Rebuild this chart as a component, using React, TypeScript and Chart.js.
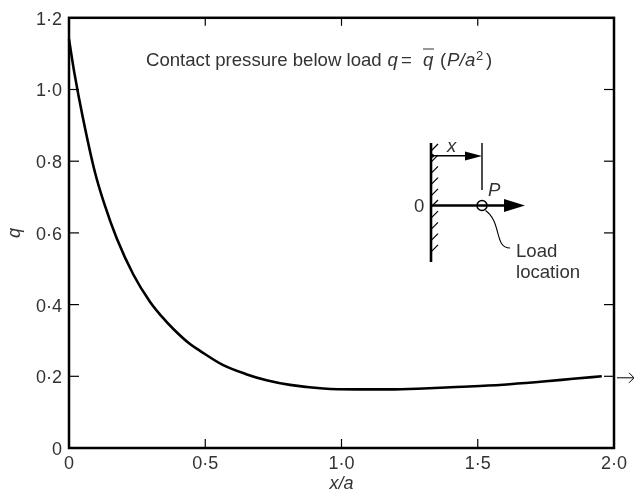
import React, { useEffect, useRef } from "react";
import { Chart, registerables } from "chart.js";

Chart.register(...registerables);

const xValues = [0, 0.02, 0.05, 0.095, 0.13, 0.175, 0.236, 0.297, 0.34, 0.383, 0.444, 0.481, 0.566, 0.65, 0.725, 0.811, 0.933, 1.056, 1.178, 1.3, 1.42, 1.508, 1.618, 1.75, 1.85, 1.955];
const qValues = [1.14, 1.045, 0.925, 0.77, 0.68, 0.585, 0.484, 0.408, 0.367, 0.332, 0.29, 0.271, 0.231, 0.206, 0.189, 0.176, 0.166, 0.1635, 0.1635, 0.166, 0.17, 0.173, 0.178, 0.186, 0.193, 0.2];
const xTicks = [0, 0.5, 1, 1.5, 2];
const yTicks = [0, 0.2, 0.4, 0.6, 0.8, 1, 1.2];

const INK = "#333333";
const FONT = '"Liberation Sans", Arial, sans-serif';
const SIZE = 18;
const NOTE = 18.6;

function fmt(v: number): string {
  if (v === 0) return "0";
  return v.toFixed(1).replace(".", "·");
}

const overlay = {
  id: "overlay",
  afterDatasetsDraw(chart: any) {
    const { ctx, chartArea: a, scales } = chart;
    const { left: L, right: R, top: T, bottom: B } = a;
    const line = (pts: number[][], w: number, col = "#000") => {
      ctx.beginPath();
      ctx.strokeStyle = col;
      ctx.lineWidth = w;
      pts.forEach((p, i) => (i ? ctx.lineTo(p[0], p[1]) : ctx.moveTo(p[0], p[1])));
      ctx.stroke();
    };
    const tri = (pts: number[][]) => {
      ctx.beginPath();
      ctx.fillStyle = "#000";
      pts.forEach((p, i) => (i ? ctx.lineTo(p[0], p[1]) : ctx.moveTo(p[0], p[1])));
      ctx.closePath();
      ctx.fill();
    };
    const text = (s: string, x: number, y: number, size = NOTE, italic = false, align = "left") => {
      ctx.font = `${italic ? "italic " : ""}${size}px ${FONT}`;
      ctx.fillStyle = INK;
      ctx.textAlign = align;
      ctx.textBaseline = "middle";
      ctx.fillText(s, x, y);
    };
    ctx.save();
    // Frame
    ctx.strokeStyle = "#000";
    ctx.lineWidth = 2.5;
    ctx.strokeRect(L, T, R - L, B - T);
    // Inward ticks
    xTicks.slice(1, -1).forEach((v) => {
      const x = scales.x.getPixelForValue(v);
      line([[x, B], [x, B - 9]], 1.2);
      line([[x, T], [x, T + 8]], 1.2);
    });
    yTicks.slice(1, -1).forEach((v) => {
      const y = scales.y.getPixelForValue(v);
      line([[L, y], [L + 10, y]], 1.2);
      line([[R, y], [R - 10, y]], 1.2);
    });
    // Continuation arrow at the right edge
    const yEnd = scales.y.getPixelForValue(0.2) + 1.5;
    line([[R + 3, yEnd], [R + 20, yEnd]], 1);
    line([[R + 15, yEnd - 5], [R + 20, yEnd], [R + 15, yEnd + 5]], 1);
    // Heading
    const hy = 60.5;
    text("Contact pressure below load", 146, hy);
    text("q", 387.5, hy, NOTE, true);
    text("=", 401, hy);
    text("q", 423, hy, NOTE, true);
    line([[423, 49], [434, 49]], 1, INK);
    text("(", 440, hy);
    text("P", 447, hy, NOTE, true);
    text("/", 459.5, hy, NOTE, true);
    text("a", 465, hy, NOTE, true);
    text("2", 476, hy - 4, 13);
    text(")", 486, hy);
    // Inset diagram
    const wx = 431;
    line([[wx, 143], [wx, 262]], 2.6);
    for (let y = 151; y <= 262; y += 11.2) line([[wx, y], [wx + 7, y - 7]], 1.2);
    ctx.beginPath();
    ctx.fillStyle = "#000";
    ctx.arc(wx + 1, 155.7, 2, 0, Math.PI * 2);
    ctx.fill();
    line([[wx, 155.7], [468, 155.7]], 1.4);
    tri([[465, 151.5], [482, 156], [465, 160.5]]);
    line([[482, 143], [482, 190]], 1.4);
    text("x", 447, 147, NOTE, true);
    text("P", 488, 191, NOTE, true);
    text("0", 414, 207, NOTE);
    line([[wx, 205.5], [506, 205.5]], 2.6);
    tri([[504, 199], [525, 205.5], [504, 212]]);
    ctx.beginPath();
    ctx.strokeStyle = "#000";
    ctx.lineWidth = 1.5;
    ctx.arc(482, 205.5, 5, 0, Math.PI * 2);
    ctx.stroke();
    ctx.beginPath();
    ctx.moveTo(485.5, 210.5);
    ctx.bezierCurveTo(502, 222, 494, 248, 510, 248);
    ctx.lineWidth = 1.1;
    ctx.stroke();
    text("Load", 516, 252);
    text("location", 516, 273);
    ctx.restore();
  },
};

export default function App() {
  const ref = useRef<HTMLCanvasElement>(null);
  useEffect(() => {
    document.body.style.margin = "0";
    const chart = new Chart(ref.current!, {
      type: "line",
      data: {
        datasets: [
          {
            data: xValues.map((x, i) => ({ x, y: qValues[i] })),
            borderColor: "#000",
            borderWidth: 2.6,
            pointRadius: 0,
            cubicInterpolationMode: "monotone",
            clip: false,
          },
        ],
      },
      options: {
        responsive: false,
        animation: false,
        layout: { padding: { top: 15, right: 20, left: 0, bottom: 0 } },
        plugins: { legend: { display: false }, title: { display: false }, tooltip: { enabled: false } },
        scales: {
          x: {
            type: "linear",
            min: 0,
            max: 2,
            afterBuildTicks: (s: any) => {
              s.ticks = xTicks.map((value) => ({ value }));
            },
            afterFit: (s: any) => {
              s.height = 44;
            },
            grid: { display: false, drawTicks: false },
            border: { display: false },
            ticks: {
              maxRotation: 0,
              autoSkip: false,
              padding: 5,
              color: INK,
              font: { family: FONT, size: SIZE },
              callback: (v: any) => fmt(Number(v)),
            },
            title: {
              display: true,
              text: "x/a",
              color: INK,
              font: { family: FONT, size: SIZE, style: "italic" },
              padding: { top: 0, bottom: -3 },
            },
          },
          y: {
            type: "linear",
            min: 0,
            max: 1.2,
            afterBuildTicks: (s: any) => {
              s.ticks = yTicks.map((value) => ({ value }));
            },
            afterFit: (s: any) => {
              s.width = 69;
            },
            grid: { display: false, drawTicks: false },
            border: { display: false },
            ticks: {
              autoSkip: false,
              padding: 7,
              labelOffset: 2,
              color: INK,
              font: { family: FONT, size: SIZE },
              callback: (v: any) => fmt(Number(v)),
            },
            title: {
              display: true,
              text: "q",
              color: INK,
              font: { family: FONT, size: SIZE, style: "italic" },
              padding: { top: 4, bottom: 0 },
            },
          },
        },
      } as any,
      plugins: [overlay],
    } as any);
    return () => chart.destroy();
  }, []);
  return <canvas ref={ref} width={634} height={492} style={{ display: "block" }} />;
}
